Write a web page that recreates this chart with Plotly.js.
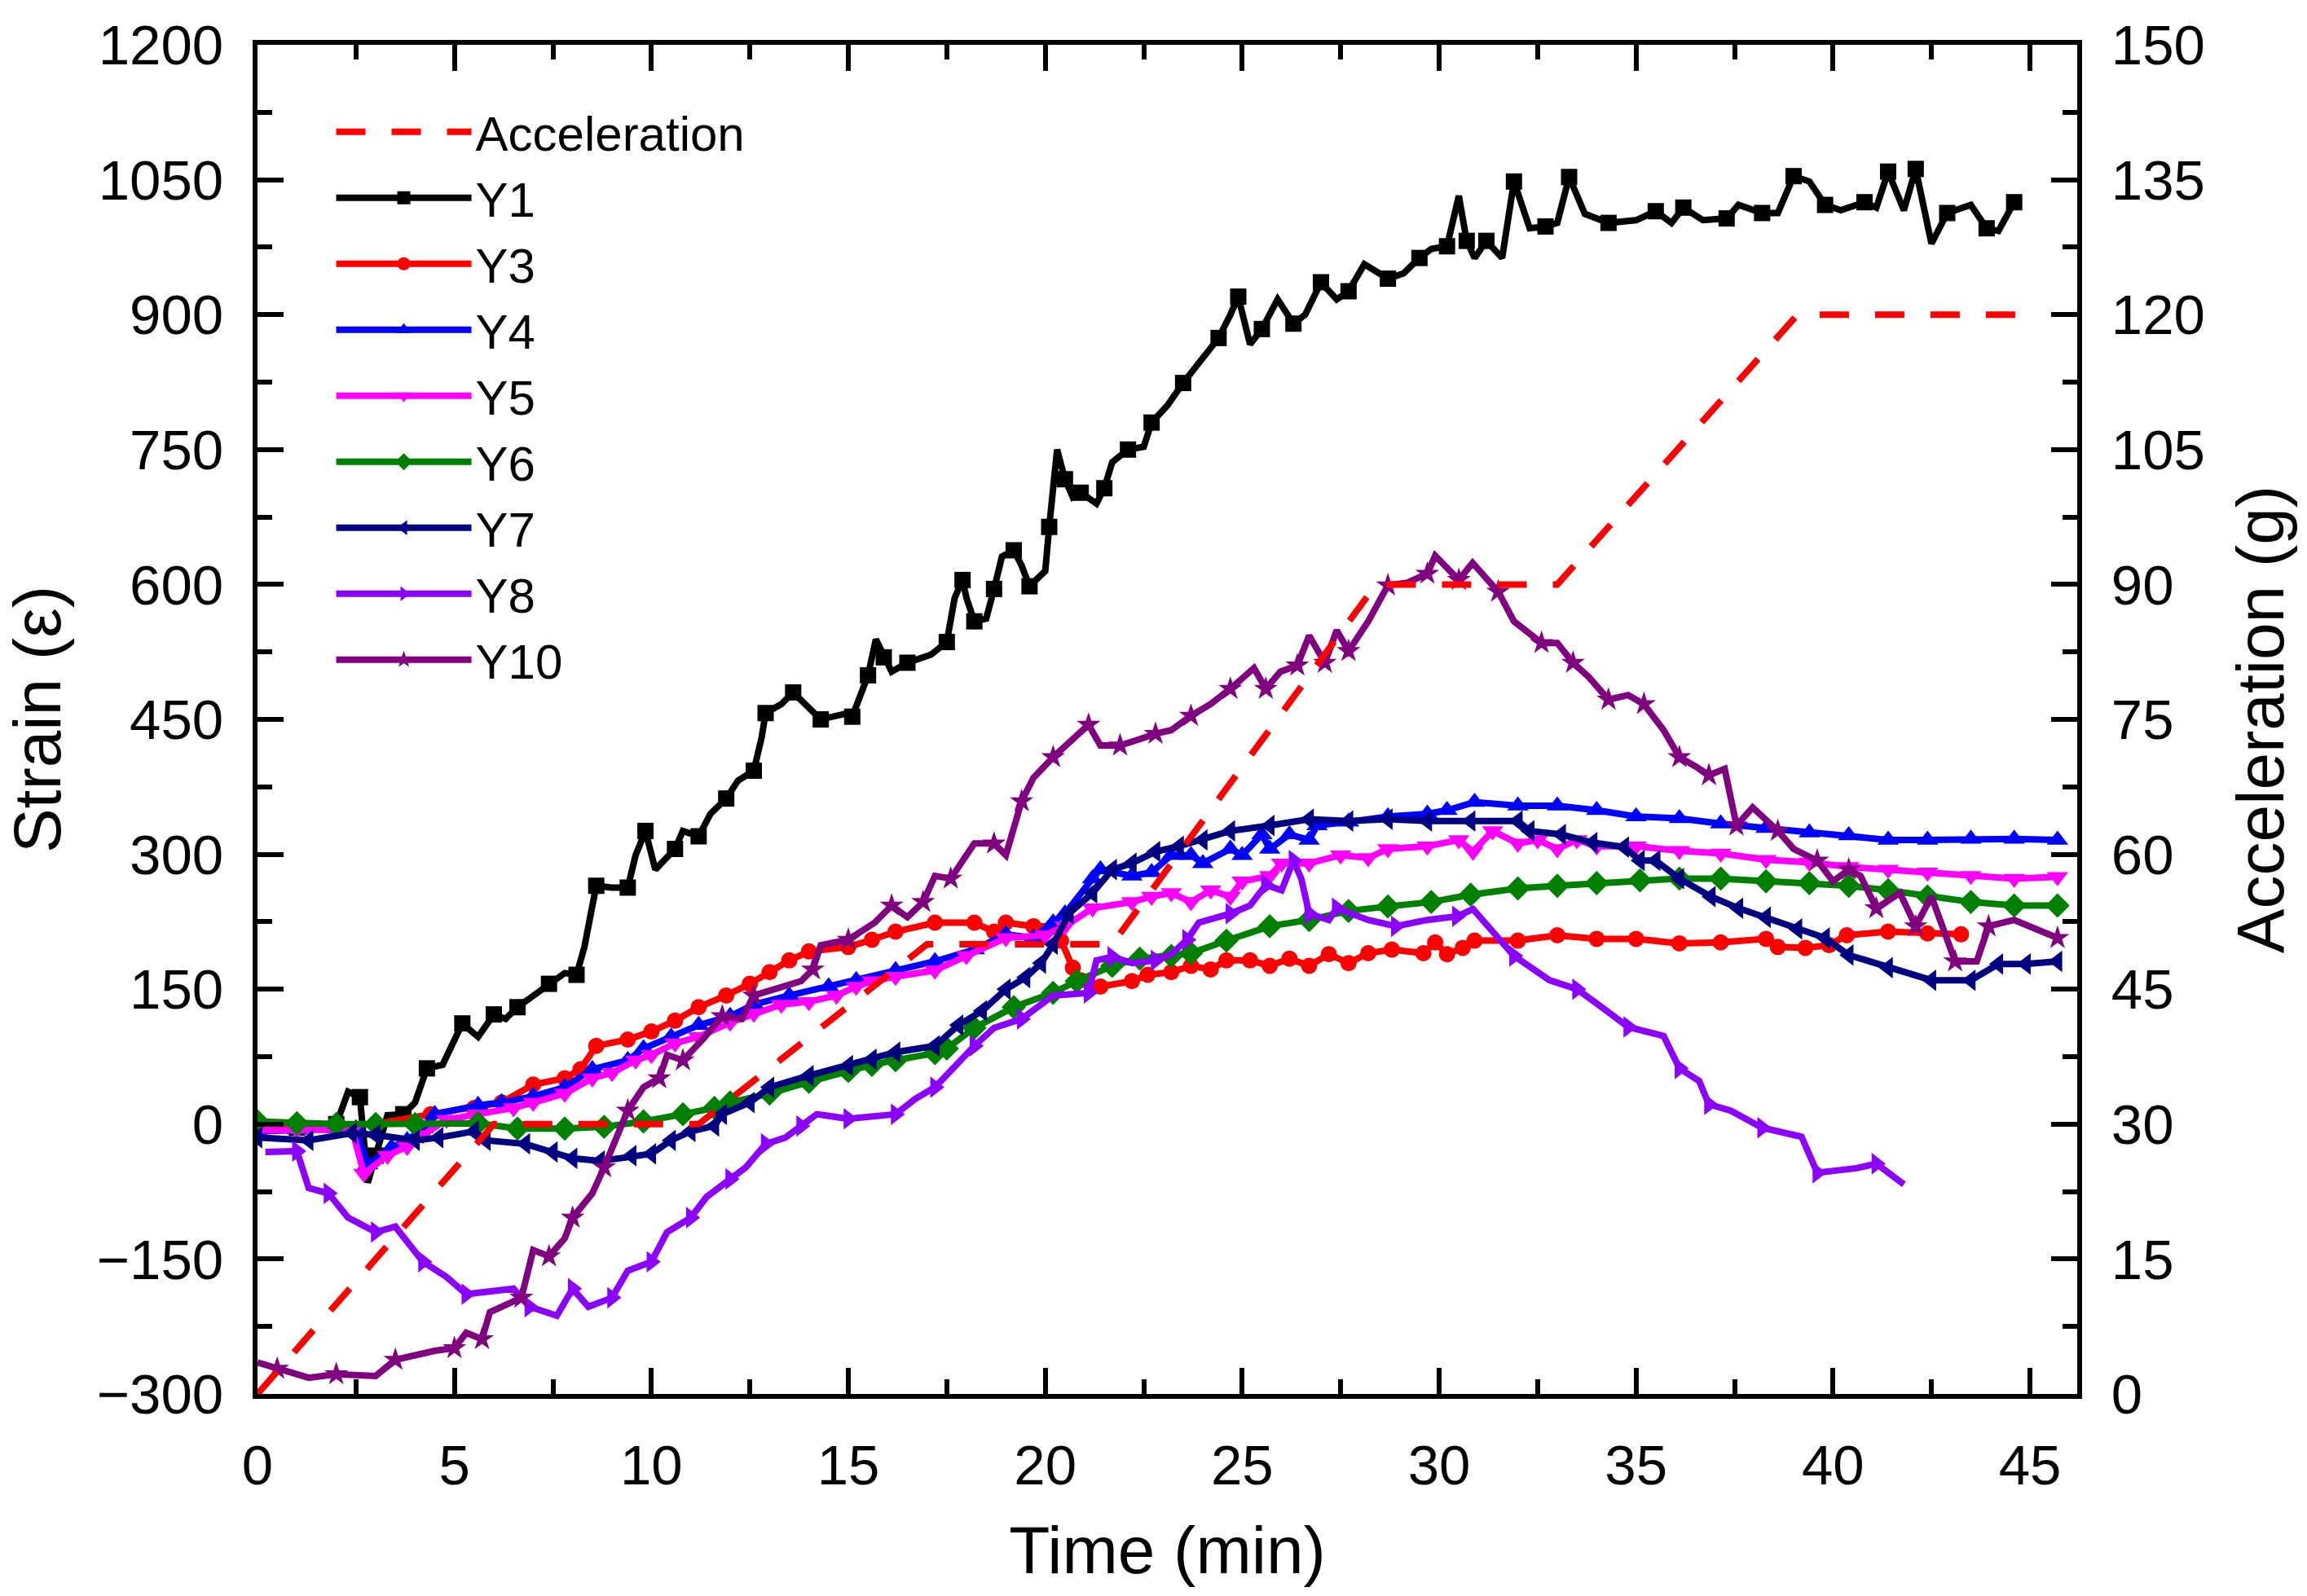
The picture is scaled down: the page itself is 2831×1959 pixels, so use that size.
<!DOCTYPE html>
<html>
<head>
<meta charset="utf-8">
<script src="https://cdn.plot.ly/plotly-3.0.1.min.js"></script>
<style>
  html, body { margin: 0; padding: 0; background: #fff; }
  #chart { width: 2831px; height: 1959px; }
</style>
</head>
<body>
<div id="chart"></div>
<script>
// acceleration profile (g), right axis
let accT = [0, 6, 11.2, 17, 21.7, 28.4, 33, 39.1, 45.2];
let accG = [0, 30, 30, 50, 50, 90, 90, 120, 120];

// strain series, left axis
let y1T = [0, 0.5, 1, 1.5, 2, 2.3, 2.6, 2.8, 3, 3.3, 3.7, 4, 4.3, 4.7, 5.2, 5.6, 6, 6.3, 6.6, 7, 7.4, 7.8, 8.1, 8.3, 8.6, 9, 9.4, 9.6, 9.85, 10.1, 10.6, 10.8, 11.2, 11.5, 11.9, 12.2, 12.6, 12.8, 12.9, 13.3, 13.6, 13.9, 14.3, 14.9, 15.1, 15.3, 15.5, 15.7, 15.9, 16.1, 16.5, 17.1, 17.5, 17.7, 17.9, 18, 18.2, 18.5, 18.7, 18.9, 19.2, 19.4, 19.6, 20, 20.1, 20.3, 20.5, 20.7, 20.9, 21.3, 21.5, 21.7, 22.1, 22.5, 22.7, 23.1, 23.5, 23.8, 24.4, 24.7, 24.9, 25.2, 25.5, 25.9, 26.3, 26.6, 27, 27.4, 27.7, 28.1, 28.7, 29.1, 29.5, 29.8, 30.2, 30.5, 30.7, 30.9, 31.2, 31.6, 31.9, 32.3, 32.7, 33, 33.3, 33.7, 34.3, 35, 35.5, 35.9, 36.2, 36.7, 37.3, 37.6, 38.2, 38.6, 39, 39.4, 39.8, 40.2, 40.8, 41.1, 41.4, 41.8, 42.1, 42.5, 42.9, 43.5, 43.9, 44.2, 44.6];
let y1V = [-5, -3, -4, -2, 0, 36, 30, -65, -35, 10, 11, 24, 62, 66, 112, 97, 122, 117, 130, 143, 156, 168, 166, 197, 265, 263, 263, 299, 326, 283, 306, 326, 320, 345, 362, 382, 393, 430, 457, 467, 480, 467, 450, 456, 453, 476, 499, 539, 519, 503, 513, 522, 536, 585, 605, 585, 559, 562, 595, 631, 638, 621, 598, 615, 664, 750, 717, 697, 702, 690, 707, 736, 750, 753, 780, 799, 824, 841, 874, 900, 920, 867, 884, 917, 890, 900, 936, 917, 926, 956, 940, 946, 963, 973, 976, 1032, 982, 963, 982, 963, 1048, 996, 998, 1002, 1053, 1012, 1002, 1005, 1015, 1002, 1019, 1005, 1007, 1022, 1013, 1013, 1054, 1048, 1022, 1016, 1025, 1019, 1059, 1016, 1062, 979, 1013, 1022, 996, 993, 1025];

let y3T = [0, 1, 2, 3, 4.4, 5.5, 6.2, 7, 7.8, 8.2, 8.6, 9.4, 10, 10.6, 11.2, 11.9, 12.5, 13, 13.5, 14, 15, 15.6, 16.2, 17.2, 18.2, 18.7, 19, 19.7, 20.2, 20.4, 20.7, 20.9, 21.4, 22.2, 22.6, 23.2, 23.7, 24.2, 24.6, 25.2, 25.7, 26.2, 26.7, 27.2, 27.7, 28.2, 28.8, 29.6, 29.9, 30.2, 30.6, 30.9, 32, 33, 34, 35, 36.1, 37.15, 38.3, 38.6, 39.3, 39.9, 40.35, 41.4, 42.4, 43.25];
let y3V = [-5, -3, -2, 0, 11, 18, 24, 44, 51, 61, 87, 94, 103, 115, 130, 143, 156, 169, 182, 192, 197, 205, 214, 224, 224, 214, 224, 220, 220, 204, 174, 160, 153, 159, 166, 169, 176, 172, 182, 182, 176, 184, 176, 189, 179, 190, 194, 190, 202, 189, 196, 204, 204, 210, 206, 206, 201, 202, 206, 197, 196, 199, 210, 214, 212, 211];

let y4T = [0, 1, 2, 2.5, 2.8, 3.4, 3.8, 4.2, 4.5, 5.6, 6.2, 7, 7.8, 8.5, 9.4, 9.8, 10.5, 11.2, 12, 12.6, 13.5, 14.5, 15.2, 16.2, 17.2, 18.2, 19, 19.7, 20.2, 20.5, 21.2, 21.4, 22.2, 22.7, 23.2, 23.7, 24, 24.7, 25, 25.5, 25.7, 26.2, 26.7, 26.9, 27.7, 28.7, 29.7, 30.2, 30.9, 32, 33, 34, 35, 36.1, 37.15, 38.3, 39.4, 40.4, 41.4, 42.4, 43.5, 44.6, 45.7];
let y4V = [-8, -6, -5, -5, -45, -26, -18, -5, 11, 21, 24, 31, 41, 61, 71, 84, 97, 110, 120, 133, 143, 153, 160, 171, 181, 194, 211, 207, 224, 234, 273, 283, 276, 280, 299, 299, 290, 306, 299, 322, 306, 322, 316, 332, 336, 342, 345, 349, 358, 354, 354, 349, 342, 340, 334, 329, 324, 321, 316, 316, 317, 317, 316];

let y5T = [0, 1, 2, 2.4, 2.7, 3.3, 3.8, 4.2, 4.8, 5.6, 6.5, 7, 7.8, 8.5, 9, 9.6, 10, 10.6, 11.2, 12, 12.6, 13.3, 14, 14.7, 15.2, 15.6, 16.2, 17.2, 18, 19, 20, 20.5, 21.2, 22.2, 22.7, 23.2, 23.7, 24.2, 24.7, 25, 25.7, 26, 26.7, 27.5, 28.2, 28.7, 29.7, 30.5, 30.86, 31.36, 32, 32.5, 33, 33.5, 34, 35, 36.1, 37.15, 38.3, 39.4, 40.4, 41.4, 42.4, 43.5, 44.6, 45.7];
let y5V = [-7, -6, -5, -6, -55, -35, -25, -12, 5, 11, 18, 24, 34, 51, 57, 71, 77, 90, 97, 113, 123, 133, 136, 143, 153, 159, 164, 171, 187, 207, 210, 220, 240, 247, 253, 257, 247, 260, 253, 270, 276, 290, 290, 299, 296, 306, 309, 316, 303, 326, 312, 316, 306, 316, 309, 309, 304, 301, 294, 291, 286, 283, 280, 276, 273, 275];

let y6T = [0, 1, 2, 3, 4, 5.6, 6.6, 7.8, 8.8, 9.8, 10.8, 11.6, 12, 13, 14, 15, 15.6, 16.2, 17.2, 17.5, 18.2, 19.2, 20.2, 20.8, 21.7, 22.4, 23.2, 23.7, 24.6, 25.7, 26.7, 27.7, 28.7, 29.8, 30.8, 32, 33, 34, 35.1, 36.1, 37.15, 38.3, 39.4, 40.4, 41.4, 42.4, 43.5, 44.6, 45.7];
let y6V = [3, 1, 0, 0, 0, 1, -5, -5, -3, 3, 11, 18, 24, 34, 47, 59, 66, 71, 79, 84, 107, 130, 146, 159, 176, 184, 187, 190, 204, 220, 227, 237, 242, 247, 255, 262, 265, 268, 271, 273, 273, 270, 268, 265, 260, 253, 247, 243, 243];

let y7T = [0, 1.3, 2.4, 3, 4, 4.6, 5.5, 5.8, 6.8, 7.5, 8, 8.7, 9.5, 10, 10.5, 11, 11.6, 11.8, 12.5, 13, 14, 15, 15.6, 16.2, 17.2, 17.8, 18.4, 19, 19.5, 19.9, 20.2, 20.6, 21.2, 21.7, 22.2, 22.8, 23.4, 24, 24.7, 25.7, 26.7, 27.7, 28.7, 29.7, 30.8, 32, 32.3, 33.1, 33.9, 34.7, 35.1, 35.5, 36.1, 36.9, 37.6, 38.3, 39.1, 39.8, 40.4, 41.4, 42.5, 43.5, 44.2, 44.9, 45.7];
let y7V = [-15, -18, -10, -12, -18, -15, -8, -18, -22, -31, -38, -41, -35, -33, -18, -8, -2, 11, 24, 41, 54, 65, 72, 80, 87, 110, 126, 150, 163, 179, 200, 234, 257, 283, 290, 303, 309, 316, 326, 332, 339, 337, 339, 337, 337, 337, 326, 322, 313, 308, 293, 293, 273, 253, 240, 230, 217, 207, 188, 174, 160, 160, 178, 178, 181];

let y8T = [0.2, 1, 1.3, 1.8, 2.3, 3, 3.5, 4.2, 4.8, 5.3, 6.5, 6.9, 7.6, 8, 8.4, 9, 9.4, 10, 10.4, 11, 11.4, 12, 12.4, 12.9, 13.4, 13.8, 14.2, 15, 15.6, 16.2, 16.7, 17.2, 17.7, 18.2, 18.7, 19.4, 20.2, 21.1, 21.3, 21.7, 22.2, 22.8, 23.2, 23.6, 23.9, 24.7, 25.2, 25.6, 26, 26.3, 26.5, 26.7, 27.2, 27.4, 28.2, 28.9, 29.7, 30.45, 30.86, 31.9, 32.8, 33.5, 34.1, 34.8, 35.7, 36.1, 36.6, 36.85, 37.4, 38.2, 39.2, 39.6, 40.6, 41.1, 41.8];
let y8V = [-31, -30, -71, -77, -104, -120, -114, -153, -170, -189, -183, -203, -213, -183, -203, -193, -163, -153, -120, -104, -81, -61, -48, -22, -15, -2, 11, 6, 9, 11, 28, 41, 64, 87, 107, 117, 143, 146, 182, 186, 179, 182, 189, 205, 224, 234, 243, 266, 260, 293, 273, 234, 227, 240, 227, 220, 227, 231, 239, 187, 160, 150, 131, 108, 98, 62, 48, 22, 15, -4, -14, -54, -49, -44, -67];

let y10T = [0, 0.5, 1.3, 2, 3, 3.5, 4.5, 5, 5.3, 5.7, 5.9, 6.7, 7, 7.4, 7.8, 8, 8.5, 8.8, 9.1, 9.4, 9.8, 10.2, 10.4, 10.8, 11.3, 11.8, 12.3, 12.6, 13.8, 14.1, 14.3, 15, 15.67, 16.1, 16.5, 16.9, 17.2, 17.6, 18.2, 18.7, 19, 19.4, 19.7, 20.2, 20.7, 21.1, 21.4, 21.9, 22.4, 22.8, 23.2, 23.7, 24.2, 24.7, 25.3, 25.6, 25.97, 26.4, 26.7, 27.1, 27.4, 27.7, 28.2, 28.7, 29.2, 29.7, 29.9, 30.5, 30.85, 31.5, 31.9, 32.6, 33, 33.4, 33.8, 34.3, 34.8, 35.2, 35.7, 36.1, 36.5, 36.85, 37.25, 37.55, 37.96, 38.6, 39, 39.6, 40, 40.4, 40.7, 41.1, 41.7, 42.1, 42.5, 43.1, 43.65, 43.95, 44.6, 45.7];
let y10V = [-265, -272, -282, -278, -280, -262, -252, -249, -232, -239, -209, -193, -140, -147, -127, -104, -77, -48, -15, 15, 41, 51, 77, 71, 94, 120, 117, 143, 159, 172, 199, 205, 224, 243, 230, 247, 276, 273, 312, 312, 299, 359, 385, 408, 428, 444, 421, 421, 428, 434, 438, 454, 467, 484, 507, 484, 503, 510, 543, 513, 549, 526, 559, 599, 602, 612, 632, 605, 624, 592, 559, 535, 535, 513, 497, 472, 477, 467, 438, 408, 398, 388, 395, 332, 352, 326, 306, 293, 270, 283, 276, 240, 257, 220, 253, 181, 181, 220, 227, 207];

let names = ['Y1', 'Y3', 'Y4', 'Y5', 'Y6', 'Y7', 'Y8', 'Y10'];
let xs = [y1T, y3T, y4T, y5T, y6T, y7T, y8T, y10T];
let ys = [y1V, y3V, y4V, y5V, y6V, y7V, y8V, y10V];
let colors = ['#000000', '#FF0000', '#0000FF', '#FF00FF', '#008000', '#000080', '#8B00FF', '#800080'];
let symbols = ['square', 'circle', 'triangle-up', 'triangle-down', 'diamond', 'triangle-left', 'triangle-right', 'star'];
let sizes = [20, 20, 23, 23, 23, 23, 23, 22];

let font = 'Arial, "Liberation Sans", sans-serif';

let traces = [{
  x: accT,
  y: accG,
  yaxis: 'y2',
  name: 'Acceleration',
  mode: 'lines',
  line: { color: '#FF0000', width: 8, dash: '36px,32px' }
}];

for (let i = 0; i < names.length; i++) {
  traces.push({
    x: xs[i],
    y: ys[i],
    name: names[i],
    mode: 'lines+markers',
    line: { color: colors[i], width: 8 },
    marker: { symbol: symbols[i], size: sizes[i], color: colors[i], maxdisplayed: 70 }
  });
}

let axisCommon = {
  showgrid: false,
  zeroline: false,
  showline: true,
  linecolor: '#000',
  linewidth: 6,
  ticks: 'inside',
  ticklen: 32,
  tickwidth: 6,
  tickcolor: '#000',
  tickfont: { family: font, size: 69, color: '#000' },
  automargin: false
};

let minorTicks = { ticks: 'inside', ticklen: 18, tickwidth: 6, tickcolor: '#000' };

let layout = {
  width: 2831,
  height: 1959,
  margin: { l: 316, r: 282, t: 55, b: 248 },
  paper_bgcolor: '#fff',
  plot_bgcolor: '#fff',
  font: { family: font, color: '#000' },
  showlegend: true,
  legend: {
    x: 0.041, y: 0.963, xanchor: 'left', yanchor: 'top',
    bgcolor: 'rgba(0,0,0,0)',
    font: { family: font, size: 60, color: '#000' },
    itemwidth: 166,
    tracegroupgap: 0
  },
  xaxis: Object.assign({}, axisCommon, {
    range: [0, 46.2],
    tick0: 0, dtick: 5,
    mirror: 'ticks',
    ticklabelstandoff: 22,
    minor: Object.assign({ dtick: 2.5 }, minorTicks),
    title: { text: 'Time (min)', font: { family: font, size: 82, color: '#000' }, standoff: 40 }
  }),
  yaxis: Object.assign({}, axisCommon, {
    range: [-300, 1200],
    tick0: -300, dtick: 150,
    ticklabelstandoff: 22,
    minor: Object.assign({ dtick: 75 }, minorTicks),
    title: { text: 'Strain (ε)', font: { family: font, size: 82, color: '#000' }, standoff: 26 }
  }),
  yaxis2: Object.assign({}, axisCommon, {
    overlaying: 'y',
    side: 'right',
    range: [0, 150],
    tick0: 0, dtick: 15,
    ticklabelstandoff: 22,
    minor: Object.assign({ dtick: 7.5 }, minorTicks),
    title: { text: 'Acceleration (g)', font: { family: font, size: 82, color: '#000' }, standoff: 42 }
  })
};

Plotly.newPlot('chart', traces, layout, { displayModeBar: false, staticPlot: true });
</script>
</body>
</html>
